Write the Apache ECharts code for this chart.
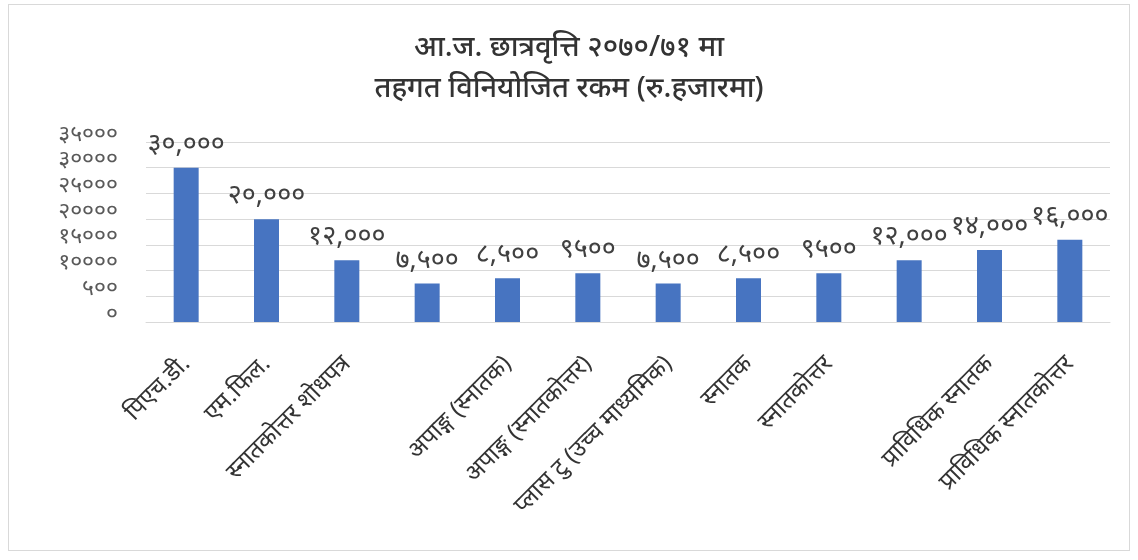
<!DOCTYPE html>
<html>
<head>
<meta charset="utf-8">
<script src="https://cdn.jsdelivr.net/npm/echarts@6/dist/echarts.min.js"></script>
<style>
html,body{margin:0;padding:0;background:#fff;}
#frame{position:absolute;left:8px;top:4px;width:1122px;height:547px;border:1px solid #d9d9d9;box-sizing:border-box;}
#chart{position:absolute;left:0;top:0;width:1138px;height:560px;}
</style>
</head>
<body>
<div id="frame"></div>
<div id="chart"></div>
<script>
const titleLines = ['आ.ज. छात्रवृत्ति २०७०/७१ मा', 'तहगत विनियोजित रकम (रु.हजारमा)'];
const categories = ['पिएच.डी.', 'एम.फिल.', 'स्नातकोत्तर शोधपत्र', '', 'अपाङ्ग (स्नातक)', 'अपाङ्ग (स्नातकोत्तर)', 'प्लास टु (उच्च माध्यमिक)', 'स्नातक', 'स्नातकोत्तर', '', 'प्राविधिक स्नातक', 'प्राविधिक स्नातकोत्तर'];
const values = [30000, 20000, 12000, 7500, 8500, 9500, 7500, 8500, 9500, 12000, 14000, 16000];
const valueLabels = ['३०,०००', '२०,०००', '१२,०००', '७,५००', '८,५००', '९५००', '७,५००', '८,५००', '९५००', '१२,०००', '१४,०००', '१६,०००'];
const yTickValues = [0, 5000, 10000, 15000, 20000, 25000, 30000, 35000];
const yTickLabels = ['०', '५००', '१००००', '१५०००', '२००००', '२५०००', '३००००', '३५०००'];

const FONT = '"Noto Sans", "Noto Sans Devanagari", "Lohit Devanagari", "FreeSans", sans-serif';
const chart = echarts.init(document.getElementById('chart'));
chart.setOption({
  backgroundColor: 'transparent',
  animation: false,
  title: {
    text: titleLines.join('\n'),
    left: 'center',
    top: 22,
    textStyle: { fontFamily: FONT, fontSize: 29, fontWeight: 500, color: '#333333', lineHeight: 41 }
  },
  grid: { left: 146, right: 28, top: 142, bottom: 238, containLabel: false },
  xAxis: {
    type: 'category',
    data: categories,
    axisLine: { lineStyle: { color: '#d9d9d9' } },
    axisTick: { show: false },
    axisLabel: { rotate: 45, interval: 0, fontFamily: FONT, fontSize: 24, color: '#333333', margin: 38 }
  },
  yAxis: {
    type: 'value',
    min: 0, max: 35000, interval: 5000,
    axisLine: { show: false },
    axisTick: { show: false },
    splitLine: { lineStyle: { color: '#d9d9d9' } },
    axisLabel: {
      fontFamily: FONT, fontSize: 23, color: '#595959', margin: 28, verticalAlign: 'bottom', lineHeight: 16,
      formatter: function (v) { const i = yTickValues.indexOf(v); return i >= 0 ? yTickLabels[i] : ''; }
    }
  },
  series: [{
    type: 'bar',
    data: values,
    barWidth: 25,
    itemStyle: { color: '#4774C1' },
    label: {
      show: true, position: 'top', distance: 10,
      fontFamily: FONT, fontSize: 27, color: '#404040',
      formatter: function (p) { return valueLabels[p.dataIndex]; }
    }
  }]
});
</script>
</body>
</html>
